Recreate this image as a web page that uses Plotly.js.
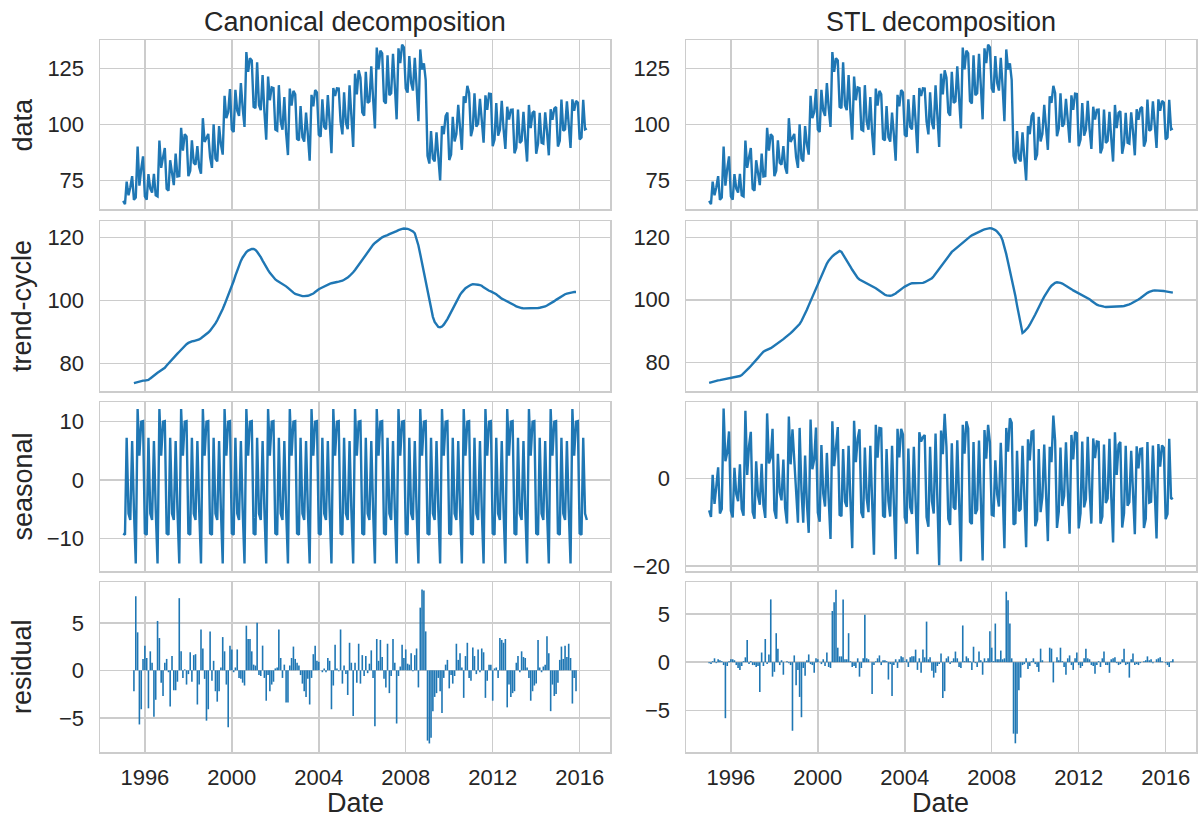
<!DOCTYPE html>
<html>
<head>
<meta charset="utf-8">
<script src="https://cdn.plot.ly/plotly-3.0.1.min.js"></script>
<style>html,body{margin:0;padding:0;background:#fff;}#chart{width:1203px;height:819px;}</style>
</head>
<body>
<div id="chart"></div>
<script>
// Monthly series, Jan 1995 .. May 2016 (257 months)
const startYear = 1995, startMonth = 1, nMonths = 257;

const columnTitles = ["Canonical decomposition", "STL decomposition"];
const rowLabels = ["data", "trend-cycle", "seasonal", "residual"];
const xTitle = "Date";

const dataValues = [
66.0,64.6,74.6,68.5,72.0,77.0,66.5,67.5,90.2,72.8,80.3,85.8,
68.0,66.6,77.9,71.5,69.7,78.0,68.5,68.0,92.9,80.7,85.4,89.5,
71.4,70.5,84.1,77.1,73.0,87.1,76.9,77.1,98.5,88.4,95.7,94.7,
77.0,79.4,93.0,83.0,82.1,90.4,81.1,78.1,102.8,92.2,94.0,95.8,
85.4,80.7,100.1,84.8,83.6,99.3,91.3,86.6,112.8,102.8,105.6,115.8,
97.7,96.7,115.4,106.1,103.8,118.4,107.4,98.9,132.2,123.4,129.5,128.5,
107.9,107.3,127.7,108.6,106.4,122.0,105.8,93.2,121.3,110.8,116.5,116.2,
97.8,97.3,117.5,101.3,97.7,112.2,96.1,86.4,116.0,108.4,115.0,113.4,
93.6,92.9,108.2,94.3,92.4,105.3,95.6,83.9,113.2,108.1,115.3,114.3,
95.4,94.6,111.2,99.0,97.8,113.1,101.3,87.2,116.2,112.7,116.1,116.0,
101.3,95.6,114.3,100.8,97.9,117.4,104.1,90.0,122.6,113.4,124.1,120.8,
105.4,103.9,123.4,109.6,110.3,125.9,111.9,98.2,134.2,124.5,132.9,131.6,
110.4,109.4,130.8,113.0,113.9,131.5,117.6,102.3,133.9,127.3,135.5,134.3,
116.0,114.2,130.4,118.5,115.1,129.7,117.1,101.5,133.4,124.5,127.2,119.9,
86.1,82.6,97.1,84.8,83.6,96.5,85.8,75.1,99.3,95.7,103.7,105.3,
84.2,86.6,103.4,92.5,95.9,108.7,98.6,88.7,112.5,109.6,117.2,114.0,
94.8,98.3,113.9,99.0,100.4,111.4,102.0,91.9,113.0,106.5,113.7,113.6,
90.3,93.3,109.5,95.0,97.6,110.5,98.2,89.1,107.9,102.2,106.5,106.6,
87.2,89.6,106.6,91.8,92.8,105.6,93.8,83.5,108.7,98.4,105.2,105.9,
87.0,91.5,105.2,91.9,91.5,105.4,97.0,86.3,106.8,102.1,107.1,107.8,
90.2,92.8,111.1,97.2,97.8,110.3,100.2,89.6,111.2,106.1,110.5,109.8,
93.3,94.2,111.0,97.8,98.2
];

const trendCanonical = [
null,null,null,null,null,null,73.7,73.9,74.1,74.3,74.4,74.5,
74.5,74.6,74.7,75.2,75.7,76.2,76.6,77.0,77.4,77.8,78.1,78.6,
79.3,80.0,80.7,81.3,81.9,82.5,83.1,83.7,84.4,85.0,85.6,86.1,
86.5,86.8,87.0,87.1,87.2,87.3,87.6,88.0,88.4,88.9,89.3,89.8,
90.4,91.1,91.9,92.7,93.7,94.8,96.0,97.3,98.7,100.1,101.6,103.1,
104.6,106.2,107.9,109.6,111.4,112.6,113.7,114.7,115.4,115.9,116.2,116.4,
116.4,116.1,115.5,114.8,113.8,112.7,111.6,110.6,109.7,108.8,108.0,107.3,
106.7,106.3,106.0,105.7,105.3,104.9,104.5,104.0,103.4,102.9,102.5,102.1,
101.9,101.7,101.5,101.4,101.4,101.4,101.5,101.7,101.9,102.2,102.7,103.2,
103.6,103.9,104.2,104.5,104.8,105.1,105.3,105.5,105.7,105.8,105.9,106.0,
106.1,106.3,106.6,106.9,107.3,107.8,108.3,109.0,109.7,110.5,111.3,112.1,
112.9,113.8,114.7,115.6,116.4,117.1,117.7,118.3,118.8,119.3,119.7,120.1,
120.4,120.5,120.8,121.1,121.3,121.5,121.8,122.1,122.4,122.7,122.8,122.9,
122.9,122.8,122.6,122.4,122.0,121.4,119.8,117.5,114.7,111.8,108.8,105.7,
102.6,99.6,97.0,94.8,93.2,92.2,91.6,91.5,91.7,92.3,93.1,94.1,
95.2,96.4,97.6,98.8,99.9,100.9,101.8,102.6,103.3,103.9,104.3,104.7,
105.0,105.2,105.2,105.1,105.0,104.9,104.7,104.2,103.8,103.4,103.1,102.9,
102.6,102.4,102.0,101.5,101.0,100.6,100.3,100.0,99.7,99.5,99.3,98.9,
98.5,98.1,97.9,97.7,97.6,97.5,97.5,97.4,97.4,97.4,97.4,97.4,
97.5,97.6,97.7,97.8,97.9,98.1,98.4,98.7,99.0,99.4,99.8,100.2,
100.6,101.0,101.4,101.7,102.0,102.2,102.4,102.5,102.6,102.7,102.7,null,
null,null,null,null,null
];

const seasonalCanonical = [
-9.1,-9.3,7.2,-5.7,-6.8,6.65,-5.0,-14.2,12.1,4.15,9.95,10.05,
-9.1,-9.3,7.2,-5.7,-6.8,6.65,-5.0,-14.2,12.1,4.15,9.95,10.05,
-9.1,-9.3,7.2,-5.7,-6.8,6.65,-5.0,-14.2,12.1,4.15,9.95,10.05,
-9.1,-9.3,7.2,-5.7,-6.8,6.65,-5.0,-14.2,12.1,4.15,9.95,10.05,
-9.1,-9.3,7.2,-5.7,-6.8,6.65,-5.0,-14.2,12.1,4.15,9.95,10.05,
-9.1,-9.3,7.2,-5.7,-6.8,6.65,-5.0,-14.2,12.1,4.15,9.95,10.05,
-9.1,-9.3,7.2,-5.7,-6.8,6.65,-5.0,-14.2,12.1,4.15,9.95,10.05,
-9.1,-9.3,7.2,-5.7,-6.8,6.65,-5.0,-14.2,12.1,4.15,9.95,10.05,
-9.1,-9.3,7.2,-5.7,-6.8,6.65,-5.0,-14.2,12.1,4.15,9.95,10.05,
-9.1,-9.3,7.2,-5.7,-6.8,6.65,-5.0,-14.2,12.1,4.15,9.95,10.05,
-9.1,-9.3,7.2,-5.7,-6.8,6.65,-5.0,-14.2,12.1,4.15,9.95,10.05,
-9.1,-9.3,7.2,-5.7,-6.8,6.65,-5.0,-14.2,12.1,4.15,9.95,10.05,
-9.1,-9.3,7.2,-5.7,-6.8,6.65,-5.0,-14.2,12.1,4.15,9.95,10.05,
-9.1,-9.3,7.2,-5.7,-6.8,6.65,-5.0,-14.2,12.1,4.15,9.95,10.05,
-9.1,-9.3,7.2,-5.7,-6.8,6.65,-5.0,-14.2,12.1,4.15,9.95,10.05,
-9.1,-9.3,7.2,-5.7,-6.8,6.65,-5.0,-14.2,12.1,4.15,9.95,10.05,
-9.1,-9.3,7.2,-5.7,-6.8,6.65,-5.0,-14.2,12.1,4.15,9.95,10.05,
-9.1,-9.3,7.2,-5.7,-6.8,6.65,-5.0,-14.2,12.1,4.15,9.95,10.05,
-9.1,-9.3,7.2,-5.7,-6.8,6.65,-5.0,-14.2,12.1,4.15,9.95,10.05,
-9.1,-9.3,7.2,-5.7,-6.8,6.65,-5.0,-14.2,12.1,4.15,9.95,10.05,
-9.1,-9.3,7.2,-5.7,-6.8,6.65,-5.0,-14.2,12.1,4.15,9.95,10.05,
-9.1,-9.3,7.2,-5.7,-6.8
];

const residualCanonical = [
null,null,null,null,null,null,-2.2,7.8,4.0,-5.7,-4.1,1.2,
2.6,1.3,-4.0,2.0,0.8,-4.9,-3.1,5.2,3.4,-1.3,-2.7,0.8,
1.2,-0.2,-3.8,1.5,-2.1,-2.1,-1.2,7.6,2.0,-0.8,0.1,-1.5,
-0.4,1.9,-1.2,1.6,1.7,-3.6,-1.5,4.3,2.3,-0.9,-5.3,-4.1,
4.1,-1.1,1.0,-2.2,-3.3,-2.2,0.3,3.5,2.0,-1.5,-6.0,2.6,
2.2,-0.2,0.3,2.2,-0.8,-0.9,-1.3,-1.6,4.7,3.3,3.3,2.0,
0.6,0.5,5.0,-0.5,-0.6,2.6,-0.8,-3.2,-0.5,-2.2,-1.5,-1.2,
0.2,0.3,4.3,1.3,-0.8,0.6,-3.4,-3.4,0.5,1.3,2.5,1.2,
0.8,0.5,-0.5,-1.4,-2.2,-2.8,-0.9,-3.6,-0.8,1.7,2.6,1.0,
0.9,0.0,-0.2,0.2,-0.2,1.3,1.0,-4.1,-1.6,2.7,0.2,-0.1,
4.3,-1.4,0.5,-0.4,-2.6,2.9,0.8,-4.8,0.8,-1.3,2.8,-1.4,
1.6,-0.6,1.5,-0.3,0.7,2.1,-0.8,-5.9,3.3,1.0,3.2,1.4,
-0.9,-1.8,2.8,-2.4,-0.6,3.3,0.8,-5.6,-0.6,0.4,2.7,1.3,
2.2,0.7,0.6,1.8,-0.1,1.6,2.3,-1.8,6.6,8.5,8.4,4.1,
-7.4,-7.7,-7.1,-4.3,-2.8,-2.4,-0.8,-2.2,-4.5,-0.8,0.6,1.1,
-1.9,-0.5,-1.4,-0.6,2.8,1.1,1.8,0.3,-2.9,1.5,2.9,-0.8,
-1.1,2.4,1.5,-0.4,2.2,-0.2,2.3,1.9,-2.9,-1.1,0.6,0.6,
-3.2,0.2,0.3,-0.8,3.4,3.2,2.9,3.3,-3.9,-1.5,-2.8,-2.4,
-2.2,0.8,1.5,-0.2,2.0,1.4,1.3,0.3,-0.8,-3.2,-2.2,-1.6,
-1.4,3.2,0.3,-0.2,0.4,0.6,3.6,1.8,-4.3,-1.5,-2.7,-2.5,
-1.3,1.1,2.5,1.2,2.6,1.4,2.8,1.3,-3.5,-0.8,-2.2,null,
null,null,null,null,null
];

const trendSTL = [
73.4,73.6,73.7,73.9,74.0,74.2,74.3,74.4,74.6,74.7,74.8,75.0,
75.1,75.2,75.3,75.4,75.5,75.6,75.9,76.4,77.0,77.6,78.2,78.8,
79.4,80.0,80.7,81.4,82.1,82.8,83.4,83.7,83.9,84.2,84.5,84.9,
85.3,85.6,86.0,86.5,86.9,87.4,87.9,88.3,88.8,89.3,89.9,90.4,
91.0,91.6,92.2,93.2,94.3,95.5,96.8,98.2,99.6,101.0,102.4,103.8,
105.2,106.6,108.0,109.3,110.6,111.6,112.5,113.3,113.9,114.4,114.9,115.3,
115.6,115.3,114.5,113.6,112.6,111.6,110.6,109.6,108.6,107.7,107.0,106.5,
106.2,105.9,105.6,105.4,105.1,104.8,104.4,104.1,103.7,103.3,102.8,102.3,
101.9,101.6,101.4,101.3,101.3,101.4,101.6,102.0,102.5,103.0,103.4,103.8,
104.2,104.6,104.9,105.1,105.3,105.3,105.3,105.3,105.3,105.4,105.4,105.6,
105.9,106.3,106.6,106.9,107.5,108.3,109.1,110.0,110.8,111.6,112.4,113.2,
114.0,114.7,115.3,115.8,116.3,116.8,117.2,117.7,118.2,118.8,119.3,119.8,
120.2,120.6,120.9,121.2,121.5,121.8,122.0,122.3,122.5,122.7,122.9,122.9,
122.8,122.6,122.3,121.8,121.2,120.4,119.0,117.0,114.6,112.0,109.5,106.8,
104.0,101.2,98.2,95.2,92.2,89.4,89.8,90.4,91.1,92.0,93.0,94.1,
95.3,96.5,97.7,98.8,99.9,101.0,102.0,103.0,103.8,104.5,105.0,105.4,
105.6,105.6,105.4,105.2,104.9,104.5,104.2,103.8,103.4,103.0,102.7,102.3,
102.0,101.8,101.5,101.2,100.9,100.6,100.2,99.7,99.2,98.8,98.4,98.2,
98.0,97.9,97.8,97.7,97.7,97.7,97.7,97.7,97.7,97.7,97.8,97.8,
97.9,98.0,98.1,98.3,98.5,98.8,99.1,99.3,99.7,100.1,100.5,101.0,
101.4,101.8,102.2,102.5,102.8,102.9,103.0,103.0,103.0,102.9,102.9,102.8,
102.7,102.6,102.5,102.4,102.3
];

const seasonalSTL = [
-7.3,-8.8,0.8,-5.8,-1.9,2.5,-8.0,-7.0,15.9,3.9,5.9,10.7,
-7.4,-8.9,2.4,-3.6,-5.2,3.2,-7.0,-8.5,15.4,0.8,7.4,10.6,
-7.7,-9.2,3.9,-3.9,-6.0,3.3,-6.1,-9.0,14.8,3.4,4.7,11.3,
-7.3,-9.2,5.6,-3.2,-5.0,4.3,-6.8,-10.3,14.1,3.2,11.2,4.7,
-3.2,-10.1,11.5,-2.7,-10.1,5.2,-5.7,-12.4,13.4,2.1,4.3,11.6,
-7.8,-9.9,7.6,-3.5,-6.4,5.8,-4.6,-13.8,13.0,2.8,7.1,11.7,
-8.3,-8.6,6.7,-5.3,-6.5,7.4,-4.9,-15.9,13.1,3.7,9.1,11.2,
-7.8,-9.0,7.0,-4.5,-7.7,7.4,-5.0,-17.4,12.2,4.7,11.5,11.4,
-8.5,-8.9,6.7,-5.2,-8.7,7.4,-5.7,-18.4,11.3,4.8,11.3,10.0,
-8.9,-10.3,6.8,-6.6,-8.1,7.2,-5.3,-17.3,10.5,8.4,9.4,9.9,
-8.8,-11.0,7.2,-5.2,-8.0,10.2,-4.6,-19.8,10.9,5.5,14.7,7.2,
-9.2,-10.6,8.0,-6.6,-7.1,8.7,-4.8,-18.9,12.2,5.6,13.0,11.4,
-9.9,-10.4,8.3,-8.1,-7.1,8.6,-4.6,-18.7,11.0,4.5,12.2,8.2,
-8.3,-8.5,4.1,-3.6,-6.4,8.1,-2.2,-15.9,11.5,6.1,13.7,12.7,
-10.5,-10.2,6.3,-7.5,-7.0,7.4,-3.8,-15.7,8.9,4.1,10.6,10.8,
-10.9,-9.4,6.7,-7.7,-4.2,7.7,-3.4,-14.3,7.2,3.7,14.3,8.6,
-11.3,-7.5,7.0,-6.3,-4.0,8.2,-2.6,-12.6,9.9,4.3,10.6,10.3,
-11.4,-7.9,8.4,-6.6,-4.7,9.5,-2.3,-10.3,9.1,4.6,8.4,8.3,
-10.3,-8.7,7.7,-5.6,-4.6,9.0,-4.2,-14.6,10.5,0.8,7.7,8.3,
-11.2,-7.9,7.4,-6.2,-5.4,6.3,-3.0,-12.7,7.3,2.3,6.7,6.8,
-11.3,-9.2,8.3,-5.5,-5.3,7.5,-2.8,-13.7,7.8,2.7,7.5,7.0,
-9.3,-8.1,9.0,-4.7,-4.4
];

const residualSTL = [
-0.1,-0.2,0.1,0.4,-0.1,0.3,0.2,0.1,-0.3,-5.8,-0.4,0.1,
0.3,0.3,0.2,-0.3,-0.6,-0.8,-0.4,0.1,0.5,2.3,-0.2,0.1,
-0.3,-0.3,-0.5,-0.4,-3.1,1.0,-0.4,2.4,-0.2,0.8,6.5,-1.5,
-1.0,3.0,1.4,-0.3,0.2,-1.3,0.0,0.1,-0.1,-0.3,-7.1,0.7,
-2.4,-0.8,-3.6,-5.7,-0.6,-1.4,0.2,0.8,-0.2,-0.3,-1.1,0.4,
0.3,0.0,-0.2,0.3,-0.4,1.0,-0.5,-0.6,5.3,6.2,7.5,1.5,
0.6,0.6,6.5,0.3,0.3,3.0,0.1,-0.5,-0.4,-0.6,0.4,-1.5,
-0.6,0.4,4.9,0.4,0.3,0.0,-3.3,-0.3,0.1,0.4,0.7,-0.3,
0.2,0.2,0.1,-1.8,-0.2,-3.5,-0.3,0.3,-0.6,0.3,0.6,0.5,
0.1,0.3,-0.5,0.5,0.6,0.6,1.3,-0.8,0.4,-1.1,1.3,0.5,
4.2,0.3,0.5,-0.9,-1.6,-1.1,-0.4,-0.2,0.9,-3.7,-3.0,0.4,
0.6,-0.2,0.1,0.4,1.1,0.4,-0.5,-0.6,3.8,0.1,0.6,0.4,
0.1,-0.8,1.6,-0.1,-0.5,1.1,0.2,-1.3,0.4,0.1,0.4,3.2,
1.5,0.1,4.0,0.3,0.3,1.2,0.3,0.4,7.3,6.4,4.0,0.4,
-7.4,-8.4,-7.4,-2.9,-1.6,-0.3,-0.2,0.4,-0.7,-0.4,0.1,0.4,
-0.2,-0.5,-1.0,1.4,0.2,0.0,0.0,0.0,1.5,1.4,-2.1,0.0,
0.5,0.2,1.5,0.1,-0.5,-1.3,0.4,0.7,-0.3,-0.8,0.4,1.0,
-0.3,-0.6,-0.4,0.4,1.4,0.4,0.3,-0.3,-0.4,-1.2,-0.3,0.1,
-0.5,0.4,1.1,-0.3,-0.3,-1.1,0.3,0.4,0.5,-0.1,-0.3,-0.2,
0.3,1.4,-0.3,-0.2,-1.6,0.3,0.9,-0.3,-0.2,-0.3,-0.1,0.0,
0.1,0.2,0.6,0.2,0.3,-0.1,0.0,0.3,0.4,0.5,0.1,0.0,
-0.1,-0.3,-0.5,0.1,0.3
];

const yTicks = {
  data: [75, 100, 125],
  trend: [80, 100, 120],
  seasonalCanonical: [-10, 0, 10],
  seasonalSTL: [-20, 0, 20],
  residual: [-5, 0, 5]
};
const xTickYears = ["1996", "2000", "2004", "2008", "2012", "2016"];

// ---------- build dates ----------
const dates = [];
for (let i = 0; i < nMonths; i++) {
  const y = startYear + Math.floor((startMonth - 1 + i) / 12);
  const m = ((startMonth - 1 + i) % 12) + 1;
  dates.push(y + "-" + String(m).padStart(2, "0") + "-01");
}

// ---------- layout geometry (pixels) ----------
const W = 1203, H = 819;
const colPx = [[100, 610], [686, 1196]];
const rowPx = [[40, 209], [221, 391], [402, 571], [582, 752]];
const xRange = ["1993-12-08", "2017-05-25"];
const yRanges = [
  [[62.4, 137.6], [62.4, 137.6]],
  [[71.2, 125.3], [70.8, 125.2]],
  [[-15.5, 13.3], [-21.1, 17.4]],
  [[-8.6, 9.3], [-9.3, 8.3]]
];
const yTickSets = [
  [yTicks.data, yTicks.data],
  [yTicks.trend, yTicks.trend],
  [yTicks.seasonalCanonical, yTicks.seasonalSTL],
  [yTicks.residual, yTicks.residual]
];
const series = [
  [dataValues, dataValues],
  [trendCanonical, trendSTL],
  [seasonalCanonical, seasonalSTL],
  [residualCanonical, residualSTL]
];

const FONT = "Liberation Sans, Arial, Helvetica, sans-serif";
const TEXT = "#262626";
const GRID = "#cccccc";
const BLUE = "#1f77b4";
const TICK_SIZE = 22, LABEL_SIZE = 27;

const layout = {
  width: W, height: H,
  margin: {l: 0, r: 0, t: 0, b: 0},
  paper_bgcolor: "#ffffff",
  plot_bgcolor: "#ffffff",
  showlegend: false,
  font: {family: FONT, color: TEXT},
  annotations: []
};
const traces = [];

for (let r = 0; r < 4; r++) {
  for (let c = 0; c < 2; c++) {
    const k = r * 2 + c + 1;
    const xn = "xaxis" + (k === 1 ? "" : k), yn = "yaxis" + (k === 1 ? "" : k);
    const xr = "x" + (k === 1 ? "" : k), yr = "y" + (k === 1 ? "" : k);
    layout[xn] = {
      domain: [colPx[c][0] / W, colPx[c][1] / W],
      anchor: yr, type: "date", range: xRange,
      tickvals: xTickYears.map(y => y + "-01-01"), ticktext: xTickYears,
      showticklabels: r === 3, ticks: "", ticklabelstandoff: 5,
      tickfont: {family: FONT, size: TICK_SIZE, color: TEXT},
      showgrid: true, gridcolor: GRID, gridwidth: 1.5,
      showline: true, linecolor: GRID, linewidth: 1.5, mirror: true,
      zeroline: false, fixedrange: true
    };
    layout[yn] = {
      domain: [1 - rowPx[r][1] / H, 1 - rowPx[r][0] / H],
      anchor: xr, range: yRanges[r][c],
      tickvals: yTickSets[r][c], ticktext: yTickSets[r][c].map(v => v < 0 ? "\u2212" + Math.abs(v) : String(v)),
      ticks: "", ticklabelstandoff: 10,
      tickfont: {family: FONT, size: TICK_SIZE, color: TEXT},
      showgrid: true, gridcolor: GRID, gridwidth: 1.5,
      showline: true, linecolor: GRID, linewidth: 1.5, mirror: true,
      zeroline: false, fixedrange: true
    };
    if (r < 3) {
      traces.push({
        x: dates, y: series[r][c], type: "scatter", mode: "lines",
        line: {color: BLUE, width: 2.4}, xaxis: xr, yaxis: yr,
        hoverinfo: "skip"
      });
    } else {
      traces.push({
        x: dates, y: series[r][c], type: "bar",
        width: 27 * 86400000,
        marker: {color: BLUE, line: {width: 0}}, xaxis: xr, yaxis: yr,
        hoverinfo: "skip"
      });
    }
  }
}

// column titles and x-axis titles
for (let c = 0; c < 2; c++) {
  layout.annotations.push({
    text: columnTitles[c], xref: "paper", yref: "paper",
    x: (colPx[c][0] + colPx[c][1]) / 2 / W, y: 1 - 22 / H,
    xanchor: "center", yanchor: "middle", showarrow: false,
    font: {family: FONT, size: LABEL_SIZE, color: TEXT}
  });
  layout.annotations.push({
    text: xTitle, xref: "paper", yref: "paper",
    x: (colPx[c][0] + colPx[c][1]) / 2 / W, y: 1 - 803 / H,
    xanchor: "center", yanchor: "middle", showarrow: false,
    font: {family: FONT, size: LABEL_SIZE, color: TEXT}
  });
}
// row labels
for (let r = 0; r < 4; r++) {
  layout.annotations.push({
    text: rowLabels[r], xref: "paper", yref: "paper",
    x: 22 / W, y: 1 - (rowPx[r][0] + rowPx[r][1]) / 2 / H,
    xanchor: "center", yanchor: "middle", textangle: -90, showarrow: false,
    font: {family: FONT, size: LABEL_SIZE, color: TEXT}
  });
}

Plotly.newPlot("chart", traces, layout, {staticPlot: true, displayModeBar: false});
</script>
</body>
</html>
